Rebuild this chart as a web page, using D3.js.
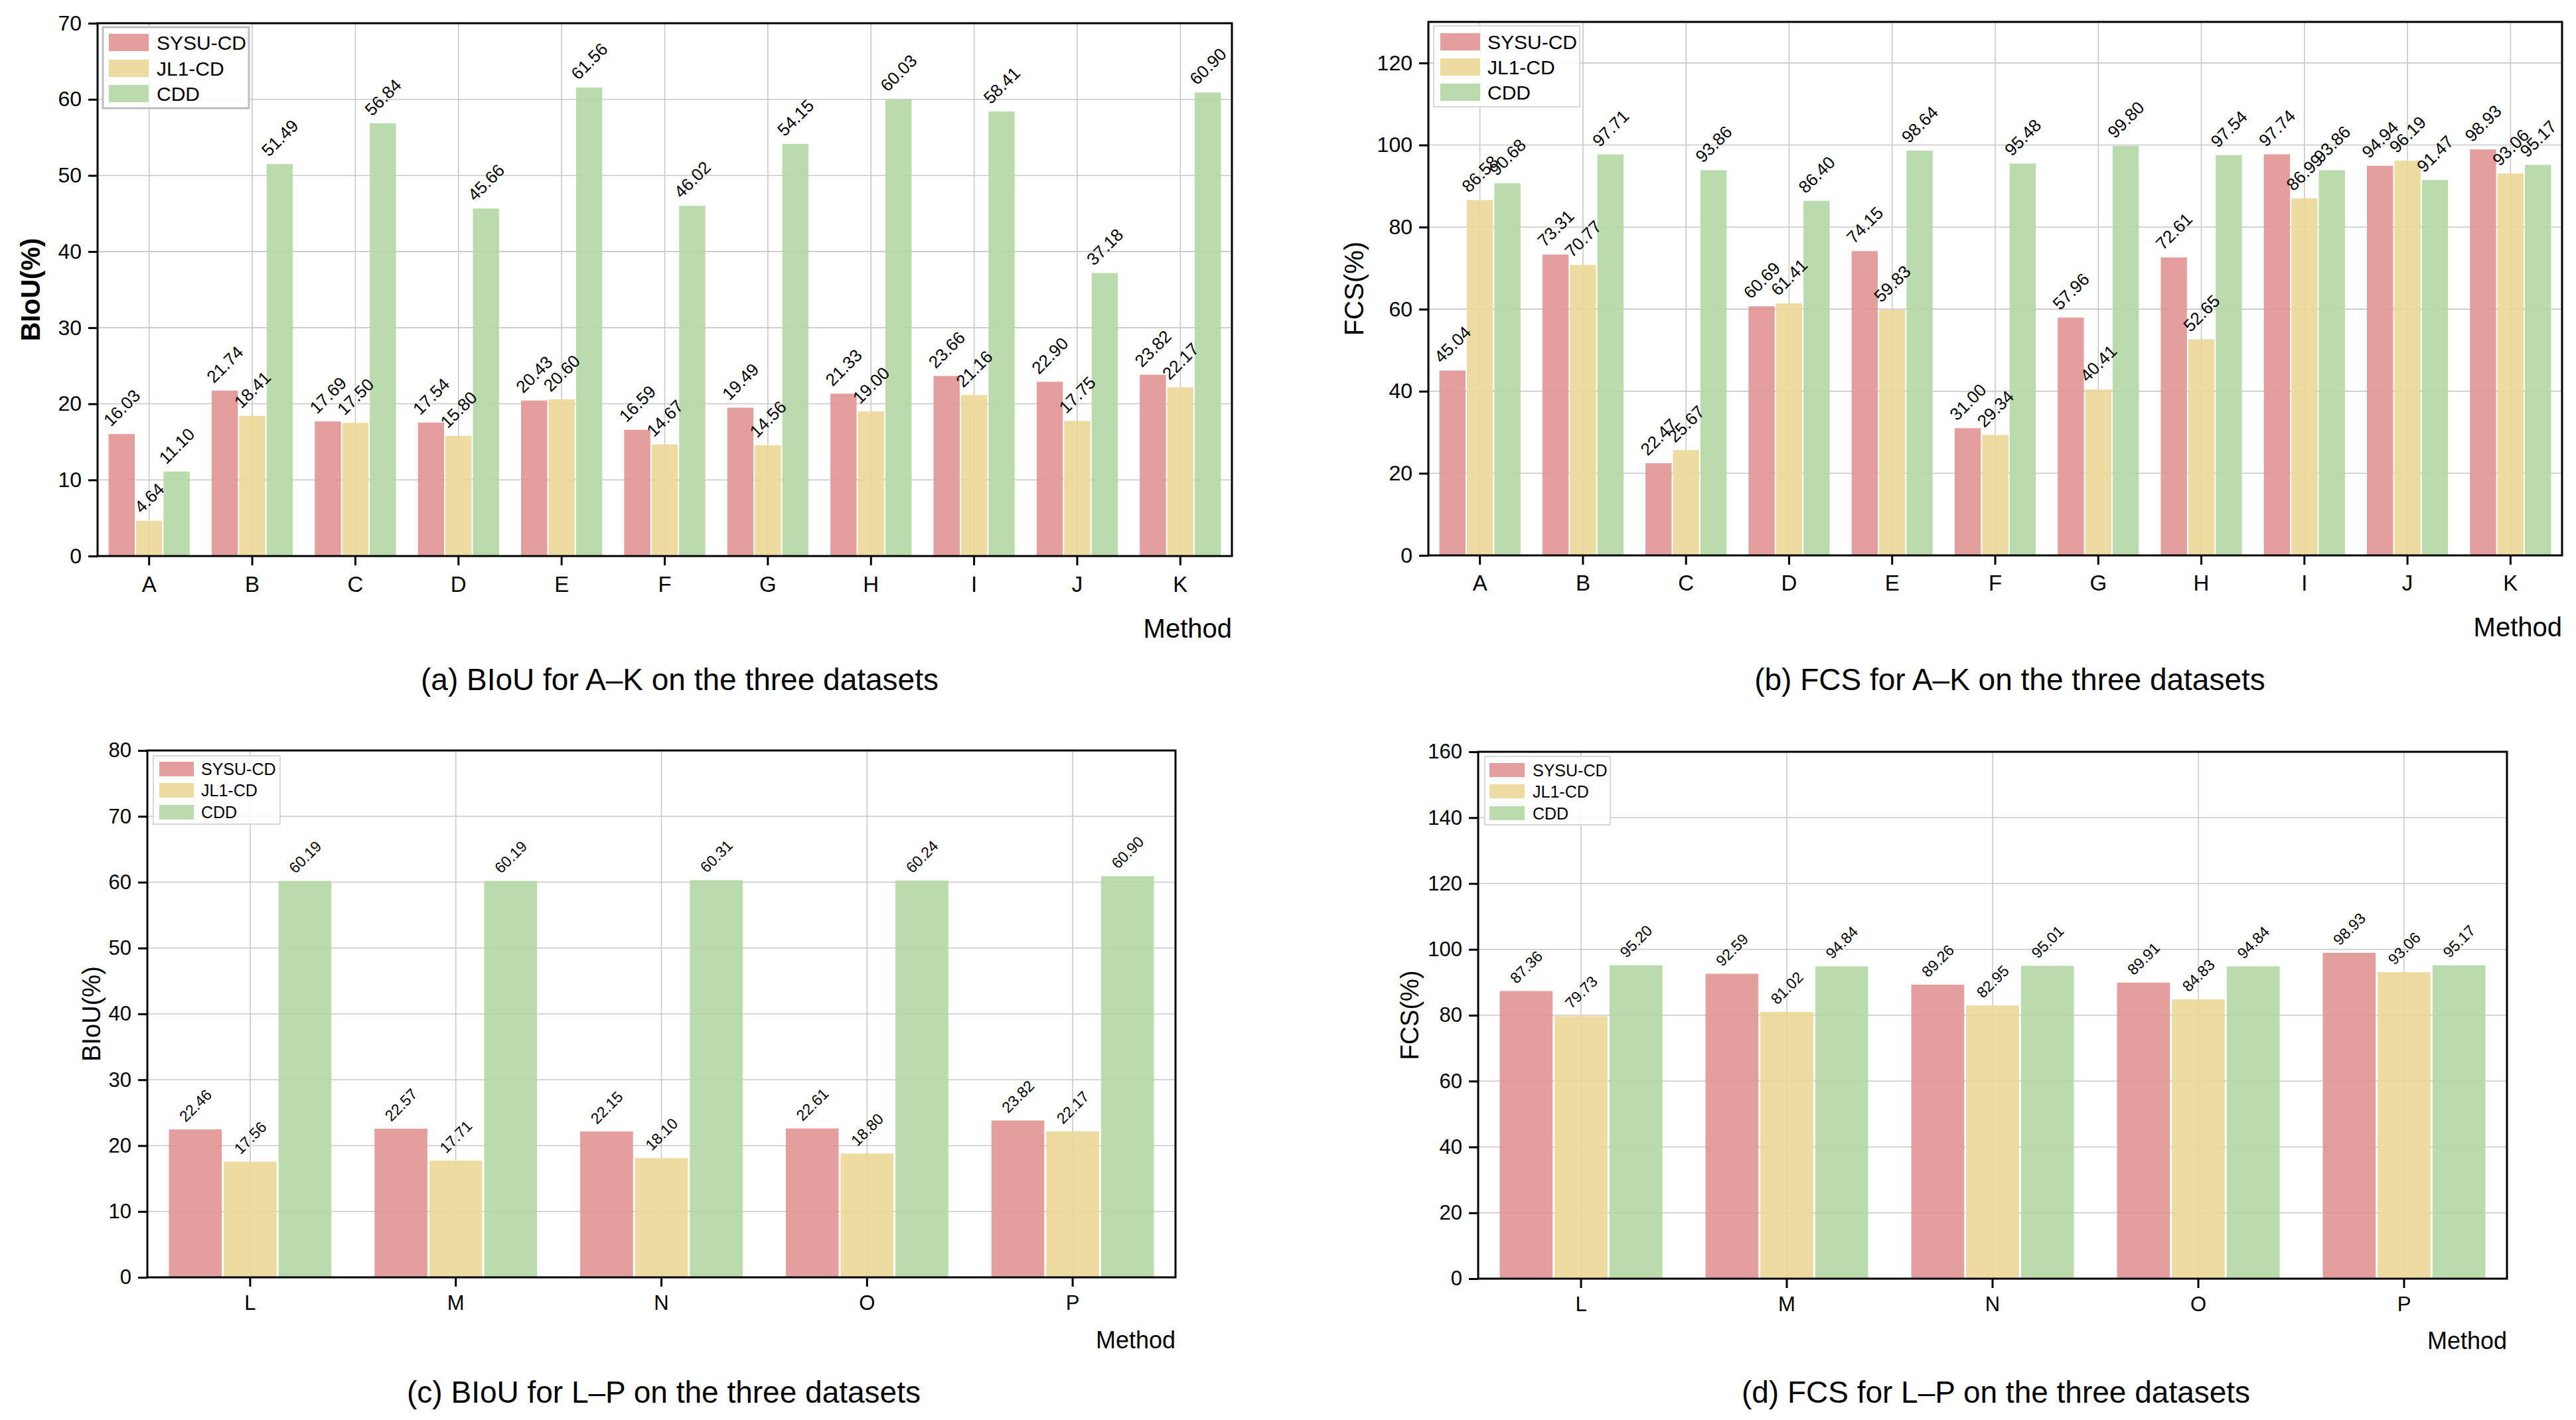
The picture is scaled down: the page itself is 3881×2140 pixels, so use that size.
<!DOCTYPE html>
<html>
<head>
<meta charset="utf-8">
<script src="https://cdn.jsdelivr.net/npm/d3@7"></script>
<style>
  html, body { margin: 0; padding: 0; background: #ffffff; }
  svg { display: block; }
  text { font-family: "Liberation Sans", Arial, Helvetica, sans-serif; fill: #000; }
</style>
</head>
<body>
<svg id="chart" width="3881" height="2140"></svg>
<script>
// ---------------- DATA ----------------
const datasets = ["SYSU-CD", "JL1-CD", "CDD"];
const methodsAK = ["A", "B", "C", "D", "E", "F", "G", "H", "I", "J", "K"];
const methodsLP = ["L", "M", "N", "O", "P"];

// (a) BIoU for A–K
const biouAK_SYSU = [16.03, 21.74, 17.69, 17.54, 20.43, 16.59, 19.49, 21.33, 23.66, 22.90, 23.82];
const biouAK_JL1  = [4.64, 18.41, 17.50, 15.80, 20.60, 14.67, 14.56, 19.00, 21.16, 17.75, 22.17];
const biouAK_CDD  = [11.10, 51.49, 56.84, 45.66, 61.56, 46.02, 54.15, 60.03, 58.41, 37.18, 60.90];

// (b) FCS for A–K
const fcsAK_SYSU = [45.04, 73.31, 22.47, 60.69, 74.15, 31.00, 57.96, 72.61, 97.74, 94.94, 98.93];
const fcsAK_JL1  = [86.58, 70.77, 25.67, 61.41, 59.83, 29.34, 40.41, 52.65, 86.99, 96.19, 93.06];
const fcsAK_CDD  = [90.68, 97.71, 93.86, 86.40, 98.64, 95.48, 99.80, 97.54, 93.86, 91.47, 95.17];

// (c) BIoU for L–P
const biouLP_SYSU = [22.46, 22.57, 22.15, 22.61, 23.82];
const biouLP_JL1  = [17.56, 17.71, 18.10, 18.80, 22.17];
const biouLP_CDD  = [60.19, 60.19, 60.31, 60.24, 60.90];

// (d) FCS for L–P
const fcsLP_SYSU = [87.36, 92.59, 89.26, 89.91, 98.93];
const fcsLP_JL1  = [79.73, 81.02, 82.95, 84.83, 93.06];
const fcsLP_CDD  = [95.20, 94.84, 95.01, 94.84, 95.17];

// axis ticks
const ticksA = [0, 10, 20, 30, 40, 50, 60, 70];
const ticksB = [0, 20, 40, 60, 80, 100, 120];
const ticksC = [0, 10, 20, 30, 40, 50, 60, 70, 80];
const ticksD = [0, 20, 40, 60, 80, 100, 120, 140, 160];

const yLabelBIoU = "BIoU(%)";
const yLabelFCS = "FCS(%)";
const xLabel = "Method";
const captionA = "(a) BIoU for A–K on the three datasets";
const captionB = "(b) FCS for A–K on the three datasets";
const captionC = "(c) BIoU for L–P on the three datasets";
const captionD = "(d) FCS for L–P on the three datasets";

// ---------------- STYLE ----------------
const colors = ["#E09392", "#EBD798", "#B2D7A2"];
const barOpacity = 0.9;

const panels = [
  { cats: methodsAK, series: [biouAK_SYSU, biouAK_JL1, biouAK_CDD], yMax: 70, ticks: ticksA,
    x0: 147, x1: 1856, y0: 35, y1: 838,
    yLabel: yLabelBIoU, yLabelBold: true, yLabelX: 46, yLabelSize: 40,
    tickFs: 32, xTickFs: 33, xTickBase: 892, dataFs: 26, gap: 2,
    legend: { x: 155, y: 41, w: 220, h: 122, swX: 164, swW: 60, swH: 26, rowY: [51, 90, 128], textX: 236, fs: 30, sw: 3, stroke: "#bdbdbd" },
    methodX: 1856, methodY: 961, methodFs: 40,
    caption: captionA, capX: 1024, capY: 1040, capFs: 46 },
  { cats: methodsAK, series: [fcsAK_SYSU, fcsAK_JL1, fcsAK_CDD], yMax: 130, ticks: ticksB,
    x0: 2152, x1: 3860, y0: 33, y1: 837,
    yLabel: yLabelFCS, yLabelBold: false, yLabelX: 2040, yLabelSize: 40,
    tickFs: 32, xTickFs: 33, xTickBase: 890, dataFs: 26, gap: 2,
    legend: { x: 2160, y: 39, w: 220, h: 122, swX: 2170, swW: 60, swH: 26, rowY: [50, 88, 126], textX: 2241, fs: 30, sw: 1.5, stroke: "#cccccc" },
    methodX: 3860, methodY: 959, methodFs: 40,
    caption: captionB, capX: 3028, capY: 1040, capFs: 46 },
  { cats: methodsLP, series: [biouLP_SYSU, biouLP_JL1, biouLP_CDD], yMax: 80, ticks: ticksC,
    x0: 222, x1: 1771, y0: 1131, y1: 1925,
    yLabel: yLabelBIoU, yLabelBold: false, yLabelX: 137, yLabelSize: 38,
    tickFs: 31, xTickFs: 31, xTickBase: 1974, dataFs: 23, gap: 3,
    legend: { x: 231, y: 1139, w: 191, h: 103, swX: 240, swW: 52, swH: 22, rowY: [1148, 1180, 1213], textX: 303, fs: 25, sw: 1.5, stroke: "#cccccc" },
    methodX: 1771, methodY: 2032, methodFs: 36,
    caption: captionC, capX: 1000, capY: 2114, capFs: 46 },
  { cats: methodsLP, series: [fcsLP_SYSU, fcsLP_JL1, fcsLP_CDD], yMax: 160, ticks: ticksD,
    x0: 2227, x1: 3777, y0: 1133, y1: 1927,
    yLabel: yLabelFCS, yLabelBold: false, yLabelX: 2123, yLabelSize: 38,
    tickFs: 31, xTickFs: 31, xTickBase: 1976, dataFs: 23, gap: 3,
    legend: { x: 2237, y: 1140, w: 189, h: 103, swX: 2244, swW: 53, swH: 21, rowY: [1150, 1182, 1215], textX: 2309, fs: 25, sw: 1.5, stroke: "#cccccc" },
    methodX: 3777, methodY: 2033, methodFs: 36,
    caption: captionD, capX: 3007, capY: 2114, capFs: 46 }
];

const svg = d3.select("#chart");
const TICK = 14;

panels.forEach(p => {
  const g = svg.append("g");
  const x = d3.scaleBand().domain(p.cats).range([p.x0, p.x1]).paddingInner(0).paddingOuter(0);
  const step = x.bandwidth();
  const xs = d3.scaleBand().domain(datasets).range([-0.4 * step, 0.4 * step]).padding(0);
  const y = d3.scaleLinear().domain([0, p.yMax]).range([p.y1, p.y0]);

  // grid
  const grid = g.append("g");
  grid.selectAll("line.h").data(p.ticks.filter(t => t > 0)).join("line")
    .attr("x1", p.x0).attr("x2", p.x1)
    .attr("y1", d => y(d)).attr("y2", d => y(d))
    .attr("stroke", "#c8c8c8").attr("stroke-width", 1.6);
  grid.selectAll("line.v").data(p.cats).join("line")
    .attr("x1", d => x(d) + step / 2).attr("x2", d => x(d) + step / 2)
    .attr("y1", p.y0).attr("y2", p.y1)
    .attr("stroke", "#c8c8c8").attr("stroke-width", 1.6);

  // bars
  const rows = [];
  p.cats.forEach((c, i) => {
    datasets.forEach((ds, j) => rows.push({ cat: c, ds: ds, j: j, v: p.series[j][i] }));
  });
  const bw = xs.bandwidth();
  g.append("g").selectAll("rect").data(rows).join("rect")
    .attr("x", d => x(d.cat) + step / 2 + xs(d.ds) + p.gap / 2)
    .attr("width", bw - p.gap)
    .attr("y", d => y(d.v))
    .attr("height", d => y(0) - y(d.v))
    .attr("fill", d => colors[d.j])
    .attr("fill-opacity", barOpacity);

  // data labels, rotated 45°
  const lab = g.append("g").selectAll("text").data(rows).join("text")
    .attr("text-anchor", "middle")
    .attr("dy", "0.36em")
    .style("font-size", p.dataFs + "px")
    .text(d => d.v.toFixed(2));
  lab.each(function (d) {
    const L = this.getComputedTextLength();
    const capH = 0.72 * p.dataFs;
    const half = 0.7071 * (L / 2 + capH / 2);
    const cx = x(d.cat) + step / 2 + xs(d.ds) + bw / 2;
    const cy = y(d.v) - 10 - half;
    d3.select(this).attr("transform", `translate(${cx},${cy}) rotate(-45)`);
  });

  // y axis
  const yAxis = d3.axisLeft(y).tickValues(p.ticks).tickSize(TICK).tickPadding(10).tickFormat(d3.format("d"));
  const ya = g.append("g").attr("transform", `translate(${p.x0},0)`).call(yAxis);
  ya.select(".domain").remove();
  ya.selectAll(".tick line").attr("stroke", "#000").attr("stroke-width", 3);
  ya.selectAll(".tick text").style("font-size", p.tickFs + "px").attr("fill", "#000")
    .style("font-family", '"Liberation Sans", Arial, sans-serif');

  // x axis
  const pad = p.xTickBase - p.y1 - TICK - 0.71 * p.xTickFs;
  const xAxis = d3.axisBottom(x).tickSize(TICK).tickPadding(pad);
  const xa = g.append("g").attr("transform", `translate(0,${p.y1})`).call(xAxis);
  xa.select(".domain").remove();
  xa.selectAll(".tick line").attr("stroke", "#000").attr("stroke-width", 3);
  xa.selectAll(".tick text").style("font-size", p.xTickFs + "px").attr("fill", "#000")
    .style("font-family", '"Liberation Sans", Arial, sans-serif');

  // frame
  g.append("rect").attr("x", p.x0).attr("y", p.y0)
    .attr("width", p.x1 - p.x0).attr("height", p.y1 - p.y0)
    .attr("fill", "none").attr("stroke", "#000").attr("stroke-width", 3);

  // y label
  g.append("text")
    .attr("transform", `translate(${p.yLabelX},${(p.y0 + p.y1) / 2}) rotate(-90)`)
    .attr("text-anchor", "middle").attr("dy", "0.36em")
    .style("font-size", p.yLabelSize + "px")
    .style("font-weight", p.yLabelBold ? "bold" : "normal")
    .text(p.yLabel);

  // x label
  g.append("text").attr("x", p.methodX).attr("y", p.methodY)
    .attr("text-anchor", "end").style("font-size", p.methodFs + "px").text(xLabel);

  // legend
  const L = p.legend;
  const lg = g.append("g");
  lg.append("rect").attr("x", L.x).attr("y", L.y).attr("width", L.w).attr("height", L.h)
    .attr("fill", "#fff").attr("fill-opacity", 0.85)
    .attr("stroke", L.stroke).attr("stroke-width", L.sw);
  const items = lg.selectAll("g.item").data(datasets).join("g");
  items.append("rect")
    .attr("x", L.swX).attr("y", (d, i) => L.rowY[i])
    .attr("width", L.swW).attr("height", L.swH)
    .attr("fill", (d, i) => colors[i]).attr("fill-opacity", barOpacity);
  items.append("text")
    .attr("x", L.textX).attr("y", (d, i) => L.rowY[i] + L.swH / 2)
    .attr("dy", "0.36em").style("font-size", L.fs + "px").text(d => d);

  // caption
  g.append("text").attr("x", p.capX).attr("y", p.capY)
    .attr("text-anchor", "middle").style("font-size", p.capFs + "px").text(p.caption);
});
</script>
</body>
</html>
